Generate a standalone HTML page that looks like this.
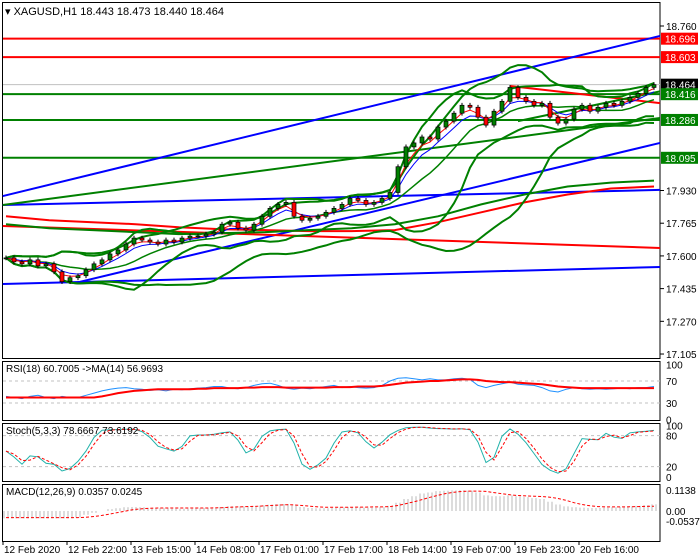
<!DOCTYPE html>
<html><head><meta charset="utf-8">
<style>
body{margin:0;background:#fff;width:700px;height:560px;overflow:hidden;font-family:"Liberation Sans",sans-serif}
svg{display:block}
text{font-family:"Liberation Sans",sans-serif;font-size:10px;fill:#000}
</style></head>
<body>
<svg id="c" width="700" height="560"></svg>
<script>
// ---------- data ----------
const closes=[17.59,17.57,17.56,17.58,17.55,17.56,17.52,17.47,17.49,17.50,17.53,17.56,17.58,17.61,17.63,17.66,17.69,17.68,17.67,17.66,17.68,17.67,17.69,17.70,17.70,17.71,17.72,17.76,17.77,17.74,17.73,17.76,17.80,17.84,17.86,17.87,17.80,17.78,17.79,17.80,17.82,17.84,17.86,17.89,17.88,17.86,17.87,17.89,17.92,18.05,18.15,18.17,18.20,18.19,18.25,18.28,18.32,18.36,18.35,18.30,18.26,18.33,18.38,18.45,18.40,18.38,18.36,18.37,18.30,18.27,18.29,18.34,18.36,18.33,18.35,18.37,18.36,18.38,18.40,18.42,18.45,18.464];
const hLevels=[{p:18.696,c:'#ff0000'},{p:18.603,c:'#ff0000'},{p:18.416,c:'#008000'},{p:18.286,c:'#008000'},{p:18.095,c:'#008000'}];
const priceTicks=[18.760,17.930,17.765,17.600,17.435,17.270,17.105];
const trendLines=[ // [bar1,price1,bar2,price2,color]
 [-0.4,17.902,81.8,18.710,'#0000ff'],
 [-0.4,17.458,81.8,17.544,'#0000ff'],
 [-0.4,17.857,81.8,17.933,'#0000ff'],
 [8.6,17.463,81.8,18.170,'#0000ff'],
 [-0.4,17.857,81.8,18.296,'#008000'],
 [-0.4,17.751,81.8,17.640,'#ff0000'],
 [63.0,18.457,81.8,18.371,'#ff0000'],
 [64.0,18.28,81.8,18.43,'#008000']];
const longRedMA=[17.80,17.78,17.77,17.76,17.745,17.735,17.73,17.725,17.725,17.73,17.77,17.82,17.87,17.91,17.94,17.95];
const longGreenMA=[17.76,17.74,17.73,17.72,17.71,17.715,17.72,17.73,17.74,17.76,17.80,17.86,17.91,17.95,17.97,17.98];
const rsiValues=[42,40,38,42,44,40,38,42,40,40,44,48,52,55,57,58,56,55,53,54,52,55,54,56,57,58,60,60,57,56,58,62,65,66,62,57,55,57,56,58,60,62,58,60,58,57,58,62,70,75,76,74,72,74,72,72,74,75,73,62,58,62,65,68,64,63,62,58,52,50,55,58,56,55,56,55,56,57,56,58,58,60];
const rsiMA=[40,40,40,40,40,40,40,40,40,40,40,40,42,45,48,50,52,53,54,55,55,55,55,55,56,56,57,57,57,57,58,58,59,59,59,58,58,58,58,58,58,59,59,59,60,60,60,61,63,65,67,68,69,70,70,71,72,73,73,72,70,69,68,68,67,66,65,64,62,60,59,58,57,57,57,57,57,57,57,57,57,57];
const macdHist=[-0.04,-0.04,-0.04,-0.04,-0.04,-0.04,-0.04,-0.04,-0.04,-0.035,-0.02,-0.01,0,0.01,0.015,0.02,0.022,0.02,0.017,0.015,0.015,0.013,0.012,0.013,0.015,0.016,0.018,0.022,0.026,0.025,0.024,0.026,0.03,0.034,0.037,0.038,0.03,0.022,0.016,0.014,0.015,0.017,0.019,0.022,0.02,0.018,0.018,0.02,0.028,0.045,0.065,0.08,0.095,0.1,0.108,0.11,0.112,0.113,0.11,0.1,0.085,0.08,0.08,0.085,0.08,0.075,0.07,0.065,0.05,0.035,0.025,0.02,0.018,0.016,0.016,0.018,0.02,0.022,0.025,0.028,0.032,0.036];
const macdSignal=[-0.036,-0.036,-0.036,-0.036,-0.036,-0.036,-0.036,-0.036,-0.036,-0.036,-0.034,-0.03,-0.024,-0.016,-0.008,0,0.008,0.012,0.015,0.016,0.016,0.016,0.016,0.016,0.016,0.016,0.017,0.018,0.02,0.022,0.024,0.025,0.027,0.03,0.032,0.034,0.033,0.03,0.026,0.022,0.02,0.02,0.02,0.02,0.021,0.021,0.022,0.022,0.024,0.03,0.04,0.05,0.062,0.074,0.085,0.095,0.102,0.106,0.108,0.108,0.106,0.1,0.094,0.088,0.084,0.082,0.08,0.078,0.075,0.068,0.058,0.045,0.035,0.028,0.024,0.022,0.022,0.022,0.023,0.024,0.025,0.026];
const dateLabels=["12 Feb 2020","12 Feb 22:00","13 Feb 15:00","14 Feb 08:00","17 Feb 01:00","17 Feb 17:00","18 Feb 14:00","19 Feb 07:00","19 Feb 23:00","20 Feb 16:00"];
const rsiTicks=[100,70,30,0], stochTicks=[100,80,20,0];

// ---------- helpers ----------
const svg=document.getElementById('c');const NS='http://www.w3.org/2000/svg';
function mk(t,a,parent){const e=document.createElementNS(NS,t);for(const k in a)e.setAttribute(k,a[k]);(parent||svg).appendChild(e);return e;}
const X0=6,DX=8,R=660;
const xs=i=>X0+i*DX;
const yP=p=>26+(18.760-p)*198.2;
function poly(arr,xf,yf,col,w,dash,name){const pts=arr.map((v,i)=>v==null?null:xf(i)+','+yf(v).toFixed(1)).filter(s=>s).join(' ');
 const e=mk('polyline',{points:pts,fill:'none',stroke:col,'stroke-width':w,'stroke-dasharray':dash||'none'});
 
 return e;}
function ema(a,n){const k=2/(n+1);let r=[],p=a[0];a.forEach((v,i)=>{p=i?v*k+p*(1-k):v;r.push(p)});return r;}
function sma(a,n){return a.map((v,i)=>{const s=a.slice(Math.max(0,i-n+1),i+1);return s.reduce((x,y)=>x+y,0)/s.length});}
function bb(a,n,m){const mid=sma(a,n);return a.map((v,i)=>{const s=a.slice(Math.max(0,i-n+1),i+1);const mu=mid[i];const sd=Math.sqrt(s.reduce((x,y)=>x+(y-mu)*(y-mu),0)/s.length);return [mu+m*sd,mu-m*sd]});}

// ---------- panels ----------
const panels=[[2,358,'main-panel'],[361,420,'rsi-panel'],[423,481,'stoch-panel'],[484,541,'macd-panel']];
panels.forEach(p=>{const r=mk('rect',{x:2.5,y:p[0]+.5,width:R-2.5,height:p[1]-p[0],fill:'#fff',stroke:'#000','stroke-width':1});
 
 });

mk('line',{x1:3,x2:R,y1:yP(18.464),y2:yP(18.464),stroke:'#c0c0c0'});
hLevels.forEach(h=>{const l=mk('line',{x1:3,x2:R,y1:yP(h.p),y2:yP(h.p),stroke:h.c,'stroke-width':2});
 
 });
trendLines.forEach((t,i)=>{const l=mk('line',{x1:xs(t[0]),y1:yP(t[1]),x2:Math.min(R,xs(t[2])),y2:yP(t[3]),stroke:t[4],'stroke-width':2});
 
 });
const step=(81)/(longRedMA.length-1);
poly(longRedMA,i=>xs(i*step),yP,'#ff0000',2,null,'long-red-ma');
poly(longGreenMA,i=>xs(i*step),yP,'#008000',2,null,'long-green-ma');
const b1=bb(closes,10,2),b2=bb(closes,20,2);
poly(b1.map(v=>v[0]),xs,yP,'#008000',2,null,'bb-upper');
poly(b1.map(v=>v[1]),xs,yP,'#008000',2,null,'bb-lower');
poly(b2.map(v=>v[0]),xs,yP,'#008000',2,null,'bb-outer-upper');
poly(b2.map(v=>v[1]),xs,yP,'#008000',2,null,'bb-outer-lower');
poly(sma(closes,10),xs,yP,'#008000',1.5,null,'bb-middle');
poly(ema(closes,5),xs,yP,'#0000ff',1,null,'ema-blue');
poly(ema(closes,3),xs,yP,'#ff0000',1,null,'ema-red');
const opens=closes.map((c,i)=>i?closes[i-1]:c);
closes.forEach((c,i)=>{const o=opens[i];const hi=Math.max(o,c)+0.012,lo=Math.min(o,c)-0.012;const g=mk('g',{});
 
 
 mk('line',{x1:xs(i),x2:xs(i),y1:yP(hi),y2:yP(lo),stroke:'#000'},g);
 const t=yP(Math.max(o,c)),b=yP(Math.min(o,c));
 mk('rect',{x:xs(i)-2,y:t,width:4,height:Math.max(1,b-t),fill:c>=o?'#008000':'#ff0000',stroke:'#000','stroke-width':.7},g);});

priceTicks.forEach(p=>{mk('line',{x1:R,x2:R+4,y1:yP(p),y2:yP(p),stroke:'#000'});
 const t=mk('text',{x:R+6,y:yP(p)+4});t.textContent=p.toFixed(3);
 
 });
const boxes=[[18.696,'#ff0000'],[18.603,'#ff0000'],[18.464,'#000'],[18.416,'#008000'],[18.286,'#008000'],[18.095,'#008000']];
boxes.forEach(b=>{const y=yP(b[0]);mk('rect',{x:R+1,y:y-6,width:37,height:12,fill:b[1]});
 const t=mk('text',{x:R+5,y:y+4,style:'fill:#fff'});t.textContent=b[0].toFixed(3);
 
 });
const tt=mk('text',{x:5,y:15,style:'font-size:11px'});tt.textContent='▾ XAGUSD,H1  18.443 18.473 18.440 18.464';



// ---------- RSI ----------
const yR=v=>419.5-v*0.55;
[70,30].forEach(v=>mk('line',{x1:3,x2:R,y1:yR(v),y2:yR(v),stroke:'#c0c0c0','stroke-dasharray':'3,3'}));
poly(rsiValues,xs,yR,'#1e90ff',1,null,'rsi-line');
poly(rsiMA,xs,yR,'#ff0000',2,null,'rsi-ma-line');
rsiTicks.forEach(v=>{const t=mk('text',{x:R+6,y:yR(v)+4});t.textContent=v;
 
 });
let t1=mk('text',{x:6,y:372});t1.textContent='RSI(18) 60.7005  ->MA(14) 56.9693';



// ---------- Stoch ----------
const yS=v=>477-v*0.517;
const highs=closes.map((c,i)=>Math.max(c,opens[i])+0.012),lows=closes.map((c,i)=>Math.min(c,opens[i])-0.012);
const kRaw=closes.map((c,i)=>{const h=Math.max(...highs.slice(Math.max(0,i-4),i+1)),l=Math.min(...lows.slice(Math.max(0,i-4),i+1));return 100*(c-l)/(h-l||1);});
const kS=sma(kRaw,2),dS=sma(kS,2);
[80,20].forEach(v=>mk('line',{x1:3,x2:R,y1:yS(v),y2:yS(v),stroke:'#c0c0c0','stroke-dasharray':'3,3'}));
poly(kS,xs,yS,'#20b2aa',1,null,'stoch-k');
poly(dS,xs,yS,'#ff0000',1,'3,2','stoch-d');
stochTicks.forEach(v=>{const t=mk('text',{x:R+6,y:yS(v)+4});t.textContent=v;
 
 });
let t2=mk('text',{x:6,y:434});t2.textContent='Stoch(5,3,3) 78.6667 73.6192';



// ---------- MACD ----------
const yM=v=>511-v*184.5;
macdHist.forEach((v,i)=>{[-2,2].forEach(off=>{const l=mk('line',{x1:xs(i)+off,x2:xs(i)+off,y1:yM(0),y2:yM(v),stroke:'#b8b8b8','stroke-width':1});
 
 });});
poly(macdSignal,xs,yM,'#ff0000',1,'3,2','macd-signal');
[[0.1138,'0.1138'],[0,'0.00'],[-0.0537,'-0.0537']].forEach(v=>{const t=mk('text',{x:R+6,y:yM(v[0])+4});t.textContent=v[1];
 
 });
let t3=mk('text',{x:6,y:495});t3.textContent='MACD(12,26,9) 0.0357 0.0245';



// ---------- time axis ----------
dateLabels.forEach((d,i)=>{const x=3+i*64;mk('line',{x1:x,x2:x,y1:541,y2:545,stroke:'#000'});
 const t=mk('text',{x:x+1,y:553});t.textContent=d;
 
 });
</script>
</body></html>
